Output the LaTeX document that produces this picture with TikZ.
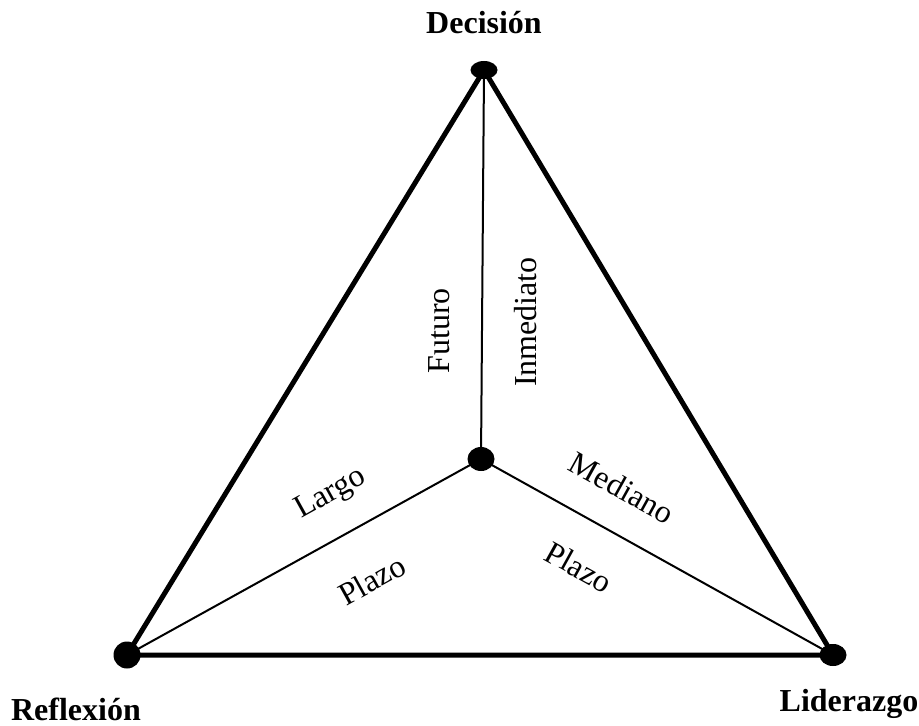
\documentclass[tikz,border=0pt]{standalone}
\usepackage{fontspec}
\setmainfont{Liberation Serif}
\usetikzlibrary{positioning,shapes.geometric}
\tikzset{dot node/.style={ellipse,fill=black,inner sep=0pt,minimum width=13.5pt,minimum height=12pt},
  corner label/.style={font=\fontsize{16}{19}\selectfont\bfseries,inner sep=0pt},
  side label/.style={font=\fontsize{16}{19}\selectfont,inner sep=0pt} }

\begin{document}
\begin{tikzpicture}[x=0.5pt,y=-0.5pt]
  \useasboundingbox (0,0) rectangle (919,726);

  \coordinate (dec) at (484,70);
  \coordinate (ref) at (127,655);
  \coordinate (lid) at (833,655);
  \coordinate (mid) at (481,459);

  \draw[line width=2.5pt] (dec) -- (lid) -- (ref) -- cycle;
  \draw[line width=1pt] (dec) -- (mid) (ref) -- (mid) -- (lid);

  \node[dot node,minimum height=9pt] (d1) at (dec) {};
  \node[dot node,minimum height=13.5pt] (d2) at (ref) {};
  \node[dot node,minimum height=11pt] (d3) at (lid) {};
  \node[dot node] (d4) at (mid) {};

  \node[corner label] (n1) at (484,23) {Decisión};
  \node[corner label] (n2) at (76,709) {Reflexión};
  \node[corner label] (n3) at (849,704) {Liderazgo};

  \node[side label,rotate=90] (s1) at (439,331) {Futuro};
  \node[side label,rotate=90] (s2) at (526,322) {Inmediato};
  \node[side label,rotate=29] (s3) at (331,494) {Largo};
  \node[side label,rotate=29] (s4) at (372,580) {Plazo};
  \node[side label,rotate=-29] (s5) at (622,488) {Mediano};
  \node[side label,rotate=-29] (s6) at (579,567) {Plazo};
\end{tikzpicture}
\end{document}
